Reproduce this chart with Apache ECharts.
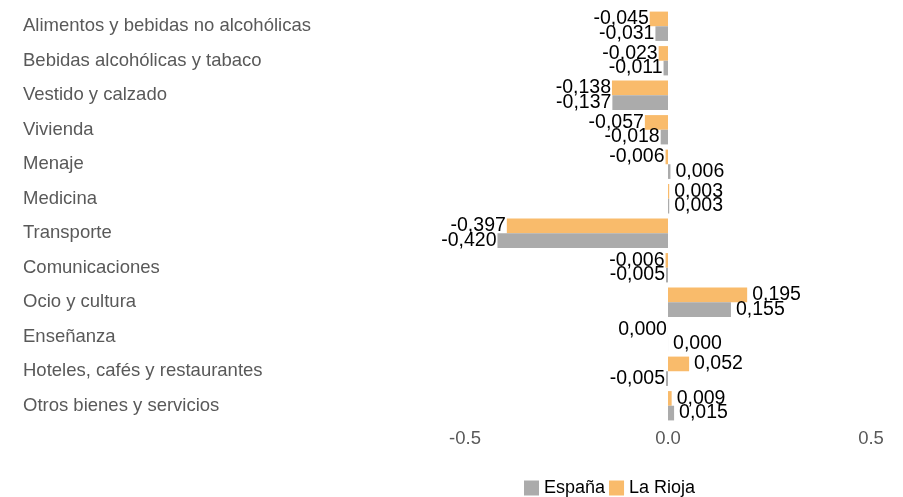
<!DOCTYPE html>
<html><head><meta charset="utf-8">
<script src="https://cdn.jsdelivr.net/npm/echarts@6/dist/echarts.min.js"></script>
<style>html,body{margin:0;padding:0;background:#fff}#c{width:903px;height:497px}</style>
</head><body><div id="c"></div>
<script>
const categories = ["Alimentos y bebidas no alcohólicas","Bebidas alcohólicas y tabaco","Vestido y calzado","Vivienda","Menaje","Medicina","Transporte","Comunicaciones","Ocio y cultura","Enseñanza","Hoteles, cafés y restaurantes","Otros bienes y servicios"];
const espana = [-0.031,-0.011,-0.137,-0.018,0.006,0.003,-0.420,-0.005,0.155,0.0001,-0.005,0.015];
const rioja = [-0.045,-0.023,-0.138,-0.057,-0.006,0.003,-0.397,-0.006,0.195,-0.0001,0.052,0.009];
const xTicks = [-0.5, 0.0, 0.5];

function fmt(v){let s=Math.abs(v).toFixed(3).replace('.',',');if(v<0&&s!=='0,000')s='-'+s;return s;}
function items(arr){return arr.map(v=>({value:v,label:{position:v<0?'left':'right',distance:v<0?1:5}}));}

const chart = echarts.init(document.getElementById('c'));
chart.setOption({
  animation:false,
  grid:{left:465,right:32,top:9,bottom:74,containLabel:false},
  legend:{top:479,left:524,itemWidth:15,itemHeight:15,itemGap:4,padding:0,icon:'rect',
    textStyle:{fontFamily:'Liberation Sans',fontSize:18,color:'#000'},
    data:['España','La Rioja']},
  xAxis:{type:'value',min:-0.5,max:0.5,interval:0.5,
    axisLine:{show:false},axisTick:{show:false},splitLine:{show:false},
    axisLabel:{fontFamily:'Liberation Sans',fontSize:18.5,color:'#595959',margin:6,
      formatter:v=>{const t=xTicks.find(x=>Math.abs(x-v)<1e-9);return (t!==undefined?t:v).toFixed(1);}}},
  yAxis:{type:'category',data:categories,inverse:true,
    axisLine:{show:false},axisTick:{show:false},
    axisLabel:{fontFamily:'Liberation Sans',fontSize:18.5,color:'#595959',align:'left',margin:442}},
  series:[
    {name:'La Rioja',type:'bar',data:items(rioja),barCategoryGap:'15%',barGap:'0%',
      itemStyle:{color:'#F9BB6B'},
      label:{show:true,fontFamily:'Liberation Sans',fontSize:19.5,color:'#000',formatter:p=>fmt(p.value)}},
    {name:'España',type:'bar',data:items(espana),barCategoryGap:'15%',barGap:'0%',
      itemStyle:{color:'#ABABAB'},
      label:{show:true,fontFamily:'Liberation Sans',fontSize:19.5,color:'#000',formatter:p=>fmt(p.value)}}
  ]
});
</script></body></html>
